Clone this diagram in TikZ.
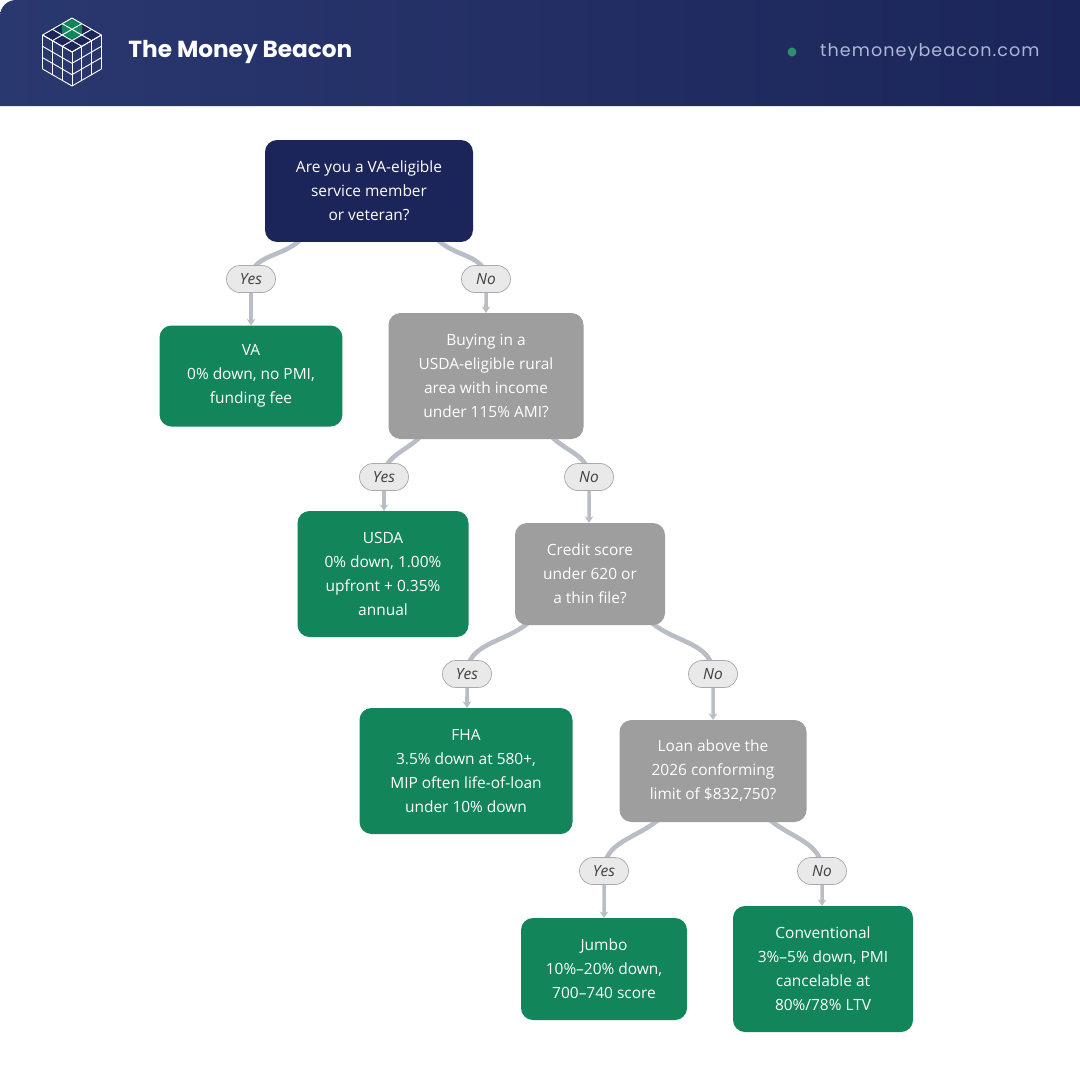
\documentclass[tikz,border=0pt]{standalone}
\usepackage{fontspec}
\setmainfont{Open Sans}
\newfontfamily\brandfont{Poppins}
\usetikzlibrary{arrows.meta,shapes.misc,calc}
\definecolor{navy}{HTML}{1B2559}
\definecolor{navylight}{HTML}{2A3870}
\definecolor{leafgreen}{HTML}{12855A}
\definecolor{askgray}{HTML}{9E9E9E}
\definecolor{wire}{HTML}{B9BDC5}
\definecolor{tagfill}{HTML}{E9E9E9}
\definecolor{tagline}{HTML}{A9A9A9}
\definecolor{urlblue}{HTML}{AEB6D6}
\tikzset{
  box/.style={rounded corners=0.6cm, text=white, align=center, inner sep=0pt,
    font=\fontsize{22}{34}\selectfont},
  ask/.style={box, fill=askgray},
  leaf/.style={box, fill=leafgreen},
  tag/.style={rounded rectangle, fill=tagfill, draw=tagline, line width=1pt,
    minimum width=2.45cm, minimum height=1.35cm, inner sep=0pt,
    font=\fontsize{22}{24}\selectfont\itshape, text=black!75},
  wire/.style={draw=wire, line width=6.5pt},
  go/.style={wire, line width=5pt, -{Stealth[length=9pt,width=12pt]}}
}
\begin{document}
\begin{tikzpicture}[x=0.05cm,y=-0.05cm]
\useasboundingbox (0,0) rectangle (1080,1080);
\fill[white] (0,0) rectangle (1080,1080);
% header
\shade[left color=navylight, right color=navy] (0,106) [rounded corners=0.8cm] -- (0,0) [sharp corners] -- (1080,0) -- (1080,106) -- cycle;
% logo
\begin{scope}[shift={(72,52)}]
\fill[navy] (0,0) -- (29.4,-17) -- (0,-34) -- (-29.4,-17) -- cycle;
\fill[leafgreen] (9.8,-28.3) -- (0,-34) -- (-9.8,-28.3) -- (-9.8,-17) -- (0,-11.3) -- (9.8,-17) -- cycle;
\foreach \k in {0,1,2,3} {
  % top face
  \draw[white, line width=1.3pt] ($(0,0)+\k/3*(29.4,-17)$) -- ++(-29.4,-17);
  \draw[white, line width=1.3pt] ($(0,0)+\k/3*(-29.4,-17)$) -- ++(29.4,-17);
  % right face
  \draw[white, line width=1.3pt] ($(0,0)+\k/3*(29.4,-17)$) -- ++(0,34);
  \draw[white, line width=1.3pt] ($(0,\k*34/3)$) -- ++(29.4,-17);
  % left face
  \draw[white, line width=1.3pt] ($(0,0)+\k/3*(-29.4,-17)$) -- ++(0,34);
  \draw[white, line width=1.3pt] ($(0,\k*34/3)$) -- ++(-29.4,-17);
}
\end{scope}
\node[anchor=west, text=white, font=\brandfont\fontsize{33}{40}\selectfont\bfseries] (brand) at (126,52) {The Money Beacon};
\node[anchor=east, text=urlblue, font=\brandfont\fontsize{25}{30}\selectfont\addfontfeature{LetterSpace=6}] (url) at (1042,52) {themoneybeacon.com};
\fill[leafgreen!90!white] (792,52) circle (4.5);

% connectors first, so the boxes sit on them
\coordinate (v1) at (300,240);
\coordinate (v2) at (438,240);
\coordinate (r1) at (420,437);
\coordinate (r2) at (552,437);
\coordinate (c1) at (528,623);
\coordinate (c2) at (652,623);
\coordinate (l1) at (658,820);
\coordinate (l2) at (770,820);
\coordinate (y1) at (251,279);
\coordinate (n1) at (486,279);
\coordinate (y2) at (384,477);
\coordinate (n2) at (589,477);
\coordinate (y3) at (467,674);
\coordinate (n3) at (713,674);
\coordinate (y4) at (604,871);
\coordinate (n4) at (822,871);
\draw[wire] (v1) to[out=225,in=90] (y1);
\draw[wire] (v2) to[out=-45,in=90] (n1);
\draw[wire] (r1) to[out=225,in=90] (y2);
\draw[wire] (r2) to[out=-45,in=90] (n2);
\draw[wire] (c1) to[out=220,in=90] (y3);
\draw[wire] (c2) to[out=-40,in=90] (n3);
\draw[wire] (l1) to[out=220,in=90] (y4);
\draw[wire] (l2) to[out=-40,in=90] (n4);

% questions and outcomes
\node[box, fill=navy, minimum width=10.4cm, minimum height=5.1cm] (vet) at (369,191) {Are you a VA-eligible\\service member\\or veteran?};
\node[leaf, minimum width=9.15cm, minimum height=5.05cm] (va) at (251,376) {VA\\0\% down, no PMI,\\funding fee};
\node[ask, minimum width=9.75cm, minimum height=6.3cm] (rural) at (486,376) {Buying in a\\USDA-eligible rural\\area with income\\under 115\% AMI?};
\node[leaf, minimum width=8.55cm, minimum height=6.3cm] (usda) at (383,574) {USDA\\0\% down, 1.00\%\\upfront + 0.35\%\\annual};
\node[ask, minimum width=7.5cm, minimum height=5.1cm] (credit) at (590,574) {Credit score\\under 620 or\\a thin file?};
\node[leaf, minimum width=10.65cm, minimum height=6.3cm] (fha) at (466,771) {FHA\\3.5\% down at 580+,\\MIP often life-of-loan\\under 10\% down};
\node[ask, minimum width=9.35cm, minimum height=5.1cm] (limit) at (713,771) {Loan above the\\2026 conforming\\limit of \$832,750?};
\node[leaf, minimum width=8.3cm, minimum height=5.1cm] (jumbo) at (604,969) {Jumbo\\10\%--20\% down,\\700--740 score};
\node[leaf, minimum width=9cm, minimum height=6.3cm] (conv) at (823,969) {Conventional\\3\%--5\% down, PMI\\cancelable at\\80\%/78\% LTV};

% answer tags
\node[tag] (yes1) at (y1) {Yes};
\node[tag] (no1) at (n1) {No};
\node[tag] (yes2) at (y2) {Yes};
\node[tag] (no2) at (n2) {No};
\node[tag] (yes3) at (y3) {Yes};
\node[tag] (no3) at (n3) {No};
\node[tag] (yes4) at (y4) {Yes};
\node[tag] (no4) at (n4) {No};

\draw[go] (yes1) -- (va.north -| yes1);
\draw[go] (no1) -- (rural.north -| no1);
\draw[go] (yes2) -- (usda.north -| yes2);
\draw[go] (no2) -- (credit.north -| no2);
\draw[go] (yes3) -- (fha.north -| yes3);
\draw[go] (no3) -- (limit.north -| no3);
\draw[go] (yes4) -- (jumbo.north -| yes4);
\draw[go] (no4) -- (conv.north -| no4);
\end{tikzpicture}
\end{document}
